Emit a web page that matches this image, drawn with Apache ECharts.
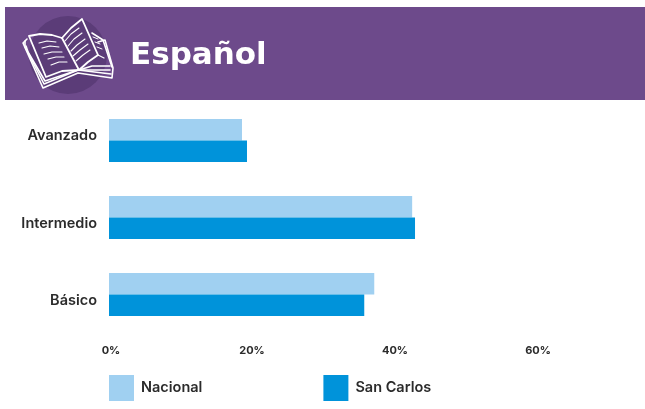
<!DOCTYPE html>
<html><head><meta charset="utf-8">
<style>html,body{margin:0;padding:0;background:#fff}#c{width:645px;height:409px}</style>
<script src="https://cdn.jsdelivr.net/npm/echarts@6/dist/echarts.min.js"></script>
</head><body><div id="c"></div>
<script>
const titleText = 'Español';
const categories = ['Avanzado','Intermedio','Básico'];
const nacional = [18.6,42.4,37.1];
const sanCarlos = [19.3,42.8,35.7];
const font = 'Inter';
const white = {stroke:'#fff',fill:null,lineWidth:1.6,lineJoin:'round',lineCap:'round'};
function line(pts,w){return {type:'polyline',z:12,shape:{points:pts},style:Object.assign({},white,w?{lineWidth:w}:{})};}
const icon = [
 {type:'circle',z:11,shape:{cx:68,cy:55,r:39},style:{fill:'#5b3c78'}},
 // page stack, outer edges
 line([[27,39],[23,43],[43,88],[78,73],[112,78],[113,68],[105,40],[98,42]]),
 line([[25,41],[25,47],[44,84],[78,70],[111,74]]),
 line([[26,46],[28,52],[45,81],[78,70],[110,70]]),
 // left page
 line([[29,36],[40,34],[52,35],[62,38],[71,55],[79,70],[62,71],[46,77],[29,36]],1.8),
 // right page
 line([[62,38],[71,28],[82,19],[98,55],[88,62],[79,70]],1.8),
 // back right page
 line([[92,33],[103,40],[112,67]]),
 line([[98,55],[104,58]],1.2),
 line([[79,70],[92,66],[110,66]]),
 // left text lines
 line([[39,43],[47,41],[56,42]],1.1),line([[42,48],[50,46],[59,47]],1.1),line([[44,54],[52,52],[62,52]],1.1),line([[48,59],[56,57],[64,57]],1.1),line([[51,65],[59,62],[67,62]],1.1),
 // right text lines
 line([[65,41],[71,34],[79,28]],1.1),line([[68,46],[74,39],[82,33]],1.1),line([[71,51],[77,45],[85,39]],1.1),line([[73,56],[80,50],[88,44]],1.1),line([[76,61],[83,55],[90,50]],1.1),
 line([[93,37],[98,39]],1),line([[95,42],[100,44]],1),line([[97,47],[102,49]],1)
];
const catStyle = {fontFamily:font,fontWeight:600,fontSize:14.5,color:'#2b2b2b'};
const chart = echarts.init(document.getElementById('c'));
chart.setOption({
 animation:false,
 grid:{left:109,top:102,width:500.5,height:231,containLabel:false},
 legend:{left:109,top:375,padding:0,itemWidth:25,itemHeight:26,itemGap:121,icon:'rect',
  textStyle:{fontFamily:font,fontWeight:600,fontSize:14.5,color:'#2b2b2b',padding:[2,0,0,2]},
  data:['Nacional','San Carlos']},
 xAxis:{type:'value',min:0,max:70,interval:20,
  axisLine:{show:false},axisTick:{show:false},splitLine:{show:false},
  axisLabel:{formatter:v=>v===0?'{z|0%}':v+'%',rich:{z:{padding:[0,0,0,4],fontFamily:font,fontWeight:700,fontSize:11,color:'#2b2b2b'}},showMaxLabel:false,margin:12,fontFamily:font,fontWeight:700,fontSize:11,color:'#2b2b2b'}},
 yAxis:{type:'category',inverse:true,data:categories,
  axisLine:{show:false},axisTick:{show:false},splitLine:{show:false},
  axisLabel:{margin:12,...catStyle,
   formatter:v=>v==='Avanzado'?'{u|'+v+'}':'{d|'+v+'}',
   rich:{u:{...catStyle,padding:[0,0,10,0]},d:{...catStyle,padding:[12,0,0,0]}}}},
 series:[
  {name:'Nacional',type:'bar',data:nacional,barWidth:21.5,barGap:'0%',itemStyle:{color:'#a0d0f1'}},
  {name:'San Carlos',type:'bar',data:sanCarlos,barWidth:21.5,barGap:'0%',itemStyle:{color:'#0093da'}}
 ],
 graphic:{elements:[
  {type:'rect',z:10,shape:{x:5,y:7,width:640,height:93},style:{fill:'#6d4a8b'}},
  ...icon,
  {type:'text',z:12,left:130,top:40,style:{text:titleText,fill:'#fff',fontFamily:'DejaVu Sans',fontWeight:700,fontSize:31}}
 ]}
});
</script></body></html>
